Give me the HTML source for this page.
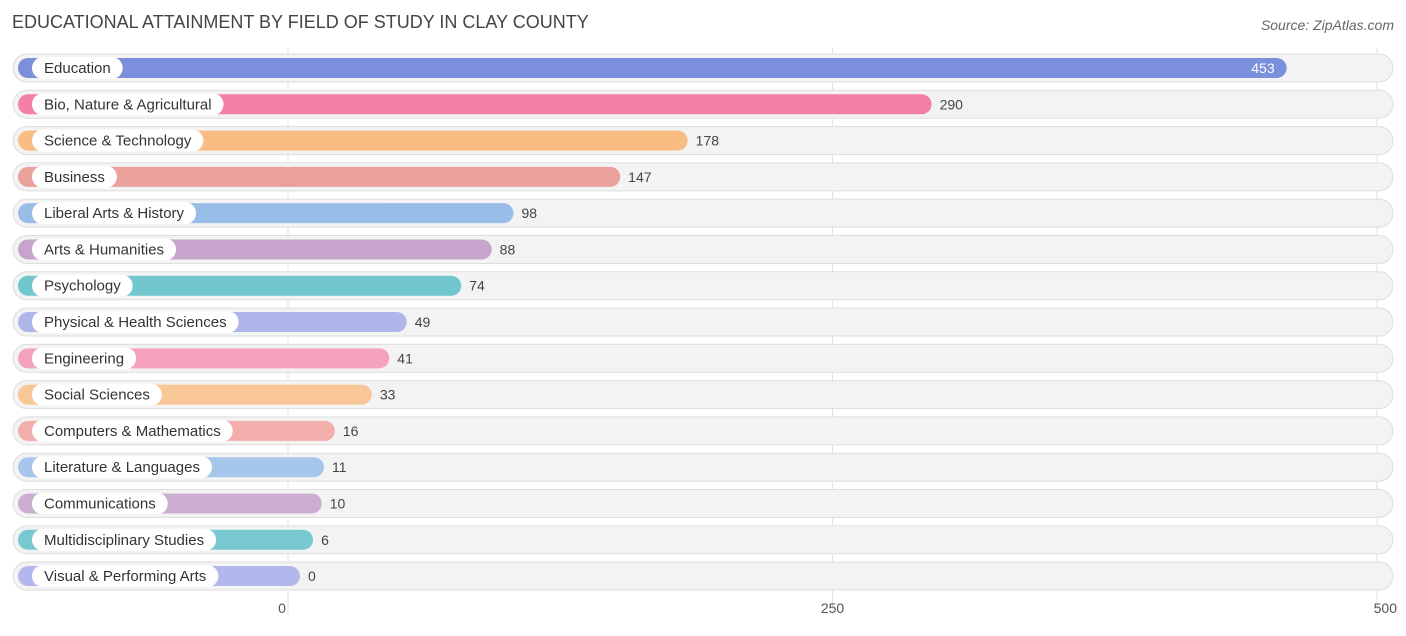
<!DOCTYPE html>
<html><head><meta charset="utf-8"><style>
body{margin:0;background:#fff;font-family:"Liberation Sans",sans-serif;}
svg text{font-family:"Liberation Sans",sans-serif;}
</style></head><body>
<svg id="chart" width="1406" height="631" viewBox="0 0 1406 631" xmlns="http://www.w3.org/2000/svg">
<text x="12" y="28" font-size="18" fill="#444">EDUCATIONAL ATTAINMENT BY FIELD OF STUDY IN CLAY COUNTY</text>
<text x="1394" y="30" font-size="14" fill="#666" text-anchor="end" font-style="italic">Source: ZipAtlas.com</text>
<g id="grid"></g><g id="rows"></g><g id="ticks"></g>
</svg>
<script>
const categories=["Education","Bio, Nature & Agricultural","Science & Technology","Business","Liberal Arts & History","Arts & Humanities","Psychology","Physical & Health Sciences","Engineering","Social Sciences","Computers & Mathematics","Literature & Languages","Communications","Multidisciplinary Studies","Visual & Performing Arts"];
const values=[453,290,178,147,98,88,74,49,41,33,16,11,10,6,0];
const tickValues=[0,250,500];
const tickLabels=["0","250","500"];
const colors=["#7b8fdc","#f47fa4","#f9bd83","#eaa19c","#98bde6","#c6a4cb","#72c6cd","#afb6e9","#f5a2bf","#f9c797","#f1aeab","#a6c6ec","#cbaed2","#78c8cf","#b3b8ec"];
const NS="http://www.w3.org/2000/svg";
const x=v=>288+v*2.178;
const barEnd=v=>300+v*2.178;
const rowY=i=>68+i*36.29;
function mk(t,a,p){const e=document.createElementNS(NS,t);for(const k in a)e.setAttribute(k,a[k]);p.appendChild(e);return e;}
const grid=document.getElementById('grid'),rows=document.getElementById('rows'),ticks=document.getElementById('ticks');
tickValues.forEach((v,i)=>{
 const l=mk('line',{x1:x(v),x2:x(v),y1:48,y2:615,stroke:'#e2e2e2','stroke-width':1},grid);
 
 
 const t=mk('text',{x:x(v)-(i==0?6:i==2?-20:0),y:613,'font-size':14,fill:'#555','text-anchor':i==2?'end':'middle'},ticks);
 t.textContent=tickLabels[i];
 
 
});
categories.forEach((c,i)=>{
 const cy=rowY(i);
 const g=mk('g',{},rows);
 
 
 const tr=mk('rect',{x:13,y:cy-14,width:1380,height:28,rx:14,fill:'#f3f3f3',stroke:'#dedede','stroke-width':1},g);
 
 
 const bx=barEnd(values[i]);
 const b=mk('rect',{x:18,y:cy-10,width:bx-18,height:20,rx:10,fill:colors[i]},g);
 
 
 const lt=mk('text',{x:44,y:cy+5,'font-size':15,fill:'#333'},g);
 lt.textContent=c;
 const w=lt.getComputedTextLength();
 const p=mk('rect',{x:32,y:cy-11,width:w+24,height:22,rx:11,fill:'#fff'},g);
 g.insertBefore(p,lt);
 
 
 
 
 const inside=i==0;
 const vt=mk('text',{x:inside?bx-12:bx+8,y:cy+5,'font-size':14,fill:inside?'#fff':'#444','text-anchor':inside?'end':'start'},g);
 vt.textContent=values[i];
 
 
});
</script>
</body></html>
